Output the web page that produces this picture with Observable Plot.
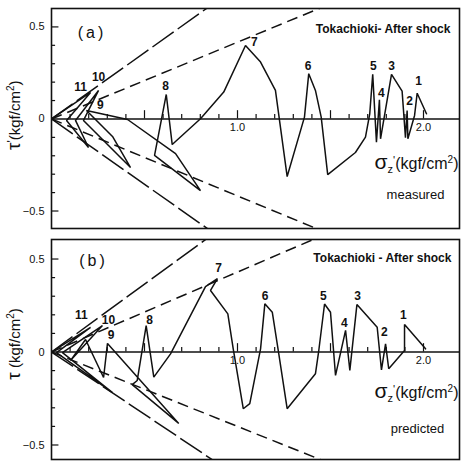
<!DOCTYPE html>
<html><head><meta charset="utf-8">
<script src="https://cdn.jsdelivr.net/npm/d3@7"></script>
<script src="https://cdn.jsdelivr.net/npm/@observablehq/plot@0.6"></script>
<style>
body{margin:0;background:#fff}
#chart svg{display:block;background:#fff}
</style>
</head><body><div id="chart"></div>
<script>
// ---- measured stress path (panel a): effective normal stress σ'z and shear stress τ (kgf/cm²)
const sigmaMeasured = [2.016,1.966,1.952,1.916,1.912,1.903,1.885,1.828,1.769,1.763,1.747,1.727,1.711,1.688,1.634,1.485,1.450,1.419,1.383,1.360,1.267,1.204,1.124,1.043,0.926,0.801,0.649,0.617,0.554,0.801,0.667,0.409,0.188,0.328,0.425,0.172,0.253,0.129,0.199,0.081,0.210,0];
const tauMeasured   = [0.028,0.140,0.019,-0.108,0.046,-0.102,0.151,0.242,-0.108,0.104,-0.126,0.242,0.028,-0.099,-0.182,-0.302,0.010,0.155,0.246,0.010,-0.313,0.155,0.309,0.399,0.146,0.001,-0.139,0.133,-0.198,-0.389,-0.188,-0.003,0.046,-0.095,-0.264,-0.008,0.155,-0.008,-0.155,-0.008,0.144,0];

// ---- predicted stress path (panel b)
const sigmaPredicted = [2.011,1.898,1.898,1.813,1.796,1.774,1.751,1.642,1.604,1.581,1.527,1.500,1.468,1.437,1.419,1.267,1.222,1.187,1.147,1.124,1.066,1.031,0.977,0.948,0.855,0.892,0.828,0.640,0.550,0.509,0.461,0.434,0.684,0.301,0.280,0.183,0.102,0.274,0.059,0.328,0.027,0.210,0];
const tauPredicted   = [0.017,0.148,0.008,-0.090,0.044,-0.096,0.133,0.255,-0.099,0.116,-0.126,0.214,0.258,0.008,-0.117,-0.305,-0.010,0.214,0.259,0.017,-0.278,-0.305,0.017,0.205,0.331,0.395,0.352,-0.010,-0.135,0.142,-0.153,-0.175,-0.384,0.046,-0.137,0.067,-0.046,0.142,-0.003,-0.218,-0.003,0.132,0];

// ---- cycle numbers
const peakNames = ["1","2","3","4","5","6","7","8","9","10","11"];
const peakSigmaMeasured = [1.973,1.925,1.828,1.774,1.731,1.379,1.091,0.613,0.263,0.253,0.156];
const peakTauMeasured   = [0.204,0.095,0.285,0.139,0.285,0.285,0.416,0.177,0.073,0.226,0.171];
const peakSigmaPredicted = [1.892,1.790,1.645,1.575,1.462,1.148,0.898,0.527,0.320,0.306,0.161];
const peakTauPredicted   = [0.196,0.105,0.298,0.156,0.298,0.298,0.452,0.169,0.089,0.169,0.196];

// ---- envelope lines through the origin (slopes τ/σ'z)
const failureSlopesMeasured = [0.72, -0.71];
const phaseSlopesMeasured = [0.417, -0.418];
const failureSlopesPredicted = [0.73, -0.67];
const phaseSlopesPredicted = [0.43, -0.40];

// ---- ticks
const xTicks = [0.1,0.2,0.3,0.4,0.5,0.6,0.7,0.8,0.9,1.0,1.1,1.2,1.3,1.4,1.5,1.6,1.7,1.8,1.9,2.0];
const xMajor = [0.5,1.0,1.5,2.0];
const xTickLabelValues = [1.0, 2.0];
const xTickLabels = ["1.0","2.0"];
const yTicks = [-0.5,-0.4,-0.3,-0.2,-0.1,0.1,0.2,0.3,0.4,0.5];
const yMajor = [-0.5,0.5];
const yTickLabelValues = [-0.5, 0, 0.5];
const yTickLabels = ["\u22120.5","0","0.5"];

const FONT = "Liberation Sans, Arial, sans-serif";
const INK = "#111";

function panel(cfg) {
  const texts = [
    {t: cfg.tag, x: cfg.tagPos[0], y: cfg.tagPos[1], anchor: "middle", size: 16, w: "normal", cls: "tag"},
    {t: cfg.title, x: cfg.titlePos[0], y: cfg.titlePos[1], anchor: "end", size: 12, w: "bold"},
    {t: cfg.note, x: cfg.notePos[0], y: cfg.notePos[1], anchor: "middle", size: 13, w: "normal"}
  ];
  return Plot.plot({
    width: 469, height: 231,
    marginLeft: 51, marginRight: 10, marginTop: 8, marginBottom: 3,
    x: {domain: [0, 408/186], axis: null},
    y: {domain: cfg.yDomain, axis: null},
    marks: [
      Plot.ruleY([0], {stroke: INK, strokeWidth: 1.4}),
      Plot.ruleX(xTicks, {x: d => d, y1: 0, y2: d => xMajor.some(m => Math.abs(m - d) < 1e-9) ? 0.045 : 0.024, stroke: INK, strokeWidth: 1.2}),
      Plot.ruleY(yTicks, {y: d => d, x1: 0, x2: d => yMajor.includes(d) ? 0.04 : 0.022, stroke: INK, strokeWidth: 1.2}),
      Plot.link(cfg.failure, {x1: 0, y1: 0, x2: 2.3, y2: s => 2.3 * s, stroke: INK, strokeWidth: 1.5, strokeDasharray: "26,5", clip: true}),
      Plot.link(cfg.phase, {x1: 0, y1: 0, x2: 2.3, y2: s => 2.3 * s, stroke: INK, strokeWidth: 1.5, strokeDasharray: "11,6", clip: true}),
      Plot.line(cfg.sigma.map((s, i) => ({s, t: cfg.tau[i]})), {x: "s", y: "t", stroke: INK, strokeWidth: 1.5, strokeLinejoin: "miter", clip: true}),
      Plot.text(peakNames, {x: (d, i) => cfg.peakSigma[i], y: (d, i) => cfg.peakTau[i], text: d => d, fontSize: 12, fontWeight: "bold", fontFamily: FONT, fill: INK}),
      Plot.text(yTickLabels, {x: 0, y: (d, i) => yTickLabelValues[i], text: d => d, dx: -7, textAnchor: "end", fontSize: 11, fontFamily: FONT, fill: INK}),
      Plot.text(xTickLabels, {x: (d, i) => xTickLabelValues[i], y: 0, text: d => d, dy: cfg.xLabelDy, fontSize: 11, fontFamily: FONT, fill: INK}),
      Plot.text(["τ"], {x: 0, y: cfg.yTitleY, dx: -36, rotate: -90, text: d => d, fontSize: 15, fontFamily: FONT, fill: INK, className: "ytitle"}),
      Plot.text(["σ"], {x: 408/186, y: cfg.xTitleY, dx: -1, textAnchor: "end", text: d => d, fontSize: 16, fontFamily: FONT, fill: INK, className: "xtitle"}),
      ...texts.map(o => Plot.text([o.t], {x: o.x, y: o.y, text: d => d, textAnchor: o.anchor, fontSize: o.size, fontWeight: o.w, fontFamily: FONT, fill: INK, className: o.cls})),
      Plot.frame({stroke: INK, strokeWidth: 1.6})
    ]
  });
}

function decorate(svg, prime) {
  const s = d3.select(svg);
  s.selectAll(".ytitle text").each(function() {
    const t = d3.select(this); t.text("");
    t.append("tspan").attr("font-size", 19).text("τ");
    if (prime) t.append("tspan").attr("font-size", 12).attr("dy", -4).text("'");
    t.append("tspan").attr("dy", prime ? 4 : 0).text(prime ? "(kgf/cm" : " (kgf/cm");
    t.append("tspan").attr("font-size", 10).attr("dy", -6).text("2");
    t.append("tspan").attr("dy", 6).text(")");
  });
  s.selectAll(".xtitle text").each(function() {
    const t = d3.select(this); t.text("");
    t.append("tspan").attr("font-size", 21).text("σ");
    t.append("tspan").attr("font-size", 11).attr("dy", 4).text("z");
    t.append("tspan").attr("font-size", 11).attr("dy", -9).text("'");
    t.append("tspan").attr("dy", 5).text("(kgf/cm");
    t.append("tspan").attr("font-size", 10).attr("dy", -6).text("2");
    t.append("tspan").attr("dy", 6).text(")");
  });
  s.selectAll(".tag text").style("letter-spacing", "3px");
}

const a = panel({
  sigma: sigmaMeasured, tau: tauMeasured, peakSigma: peakSigmaMeasured, peakTau: peakTauMeasured,
  failure: failureSlopesMeasured, phase: phaseSlopesMeasured, yDomain: [-0.595, 0.6],
  tag: "(a)", tagPos: [0.218, 0.470], title: "Tokachioki- After shock", titlePos: [2.145, 0.486],
  note: "measured", notePos: [1.957, -0.410], yTitleY: 0.02, xTitleY: -0.245, xLabelDy: 9
});
const b = panel({
  sigma: sigmaPredicted, tau: tauPredicted, peakSigma: peakSigmaPredicted, peakTau: peakTauPredicted,
  failure: failureSlopesPredicted, phase: phaseSlopesPredicted, yDomain: [-0.578, 0.605],
  tag: "(b)", tagPos: [0.226, 0.492], title: "Tokachioki - After shock", titlePos: [2.15, 0.503],
  note: "predicted", notePos: [1.968, -0.414], yTitleY: 0.043, xTitleY: -0.220, xLabelDy: 8
});
decorate(a, true);
decorate(b, false);
document.getElementById("chart").append(a, b);
</script>
</body></html>
